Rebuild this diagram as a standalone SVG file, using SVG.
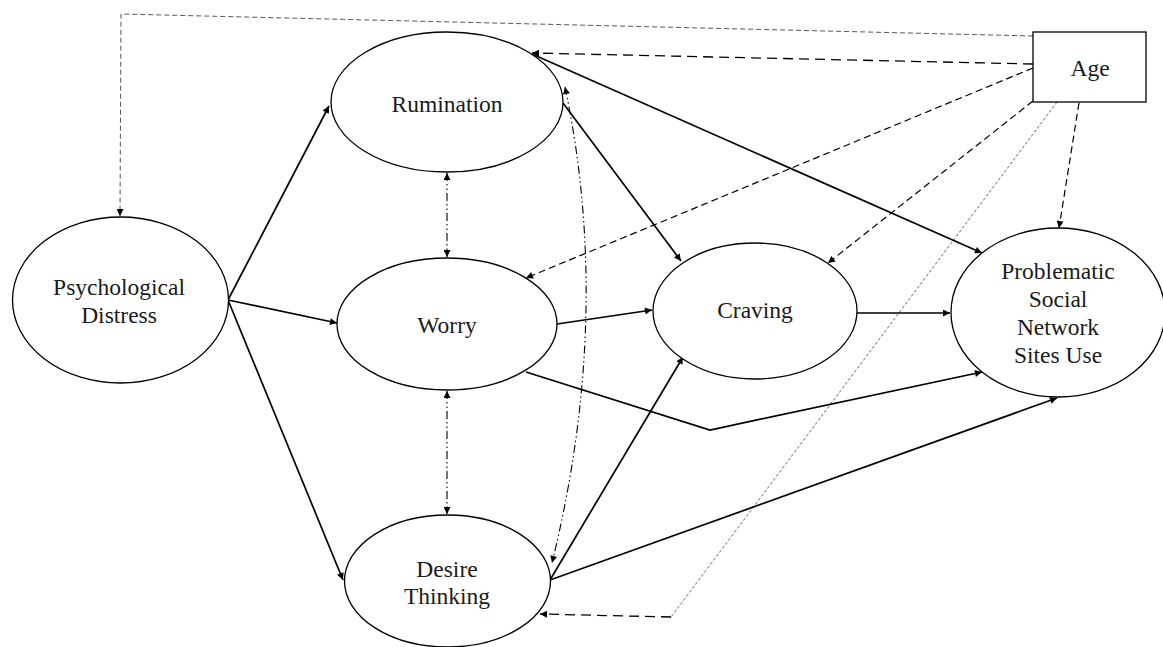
<svg xmlns="http://www.w3.org/2000/svg" width="1163" height="647" viewBox="0 0 1163 647">
<style>
.node ellipse, .node rect { fill: #fff; stroke: #000; stroke-width: 1.3; }
.node text { font-family: "Liberation Serif", "Times New Roman", serif; font-size: 23.5px; fill: #1a1a1a; text-anchor: middle; }
.c { fill: none; stroke: #000; }
.solid { stroke-width: 1.7; }
.dash { stroke-width: 1.2; stroke-dasharray: 7 4; }
.dashL { stroke-width: 1.3; stroke-dasharray: 10 6; }
.thin { stroke-width: 0.9; stroke: #444; stroke-dasharray: 5 3; }
.dot { stroke-width: 0.8; stroke: #444; stroke-dasharray: 3 2; }
.dd { stroke-width: 1.1; stroke-dasharray: 8 3 1.5 3 1.5 3; }
</style>
<defs>
<marker id="ah" viewBox="0 0 10 10" refX="10" refY="5" markerWidth="9" markerHeight="7" markerUnits="userSpaceOnUse" orient="auto-start-reverse"><path d="M0,0 L10,5 L0,10 z" fill="#000"/></marker>
</defs>
<rect width="1163" height="647" fill="#fff"/>
<g id="connectors">
<polyline class="c thin" points="1033,36 121,14 120,216" marker-end="url(#ah)"/>
<line class="c dashL" x1="1033" y1="64" x2="532" y2="53" marker-end="url(#ah)"/>
<line class="c dash" x1="1033" y1="68" x2="526" y2="278" marker-end="url(#ah)"/>
<line class="c dash" x1="1033" y1="101" x2="828" y2="263" marker-end="url(#ah)"/>
<polyline class="c dot" points="1057,102 671,617" />
<line class="c dashL" x1="671" y1="617" x2="540" y2="614" marker-end="url(#ah)"/>
<line class="c dash" x1="1079" y1="103" x2="1059" y2="228" marker-end="url(#ah)"/>
<line class="c solid" x1="228" y1="300" x2="329" y2="106" marker-end="url(#ah)"/>
<line class="c solid" x1="228" y1="300" x2="337" y2="323" marker-end="url(#ah)"/>
<line class="c solid" x1="228" y1="300" x2="343" y2="580" marker-end="url(#ah)"/>
<line class="c dd" x1="447" y1="173" x2="447" y2="257" marker-start="url(#ah)" marker-end="url(#ah)"/>
<line class="c dd" x1="447" y1="391" x2="447" y2="514" marker-start="url(#ah)" marker-end="url(#ah)"/>
<path class="c dd" d="M565,87 Q613,315 552,563" marker-start="url(#ah)" marker-end="url(#ah)"/>
<line class="c solid" x1="563" y1="103" x2="681" y2="261" marker-end="url(#ah)"/>
<line class="c solid" x1="532" y1="54" x2="982" y2="253" marker-end="url(#ah)"/>
<line class="c solid" x1="557" y1="324" x2="652" y2="310" marker-end="url(#ah)"/>
<polyline class="c solid" points="526,372 710,430 982,372" marker-end="url(#ah)"/>
<line class="c solid" x1="550" y1="580" x2="683" y2="357" marker-end="url(#ah)"/>
<line class="c solid" x1="550" y1="580" x2="1057" y2="398" marker-end="url(#ah)"/>
<line class="c solid" x1="857" y1="313" x2="950" y2="313" marker-end="url(#ah)"/>
</g>
<g id="psychological-distress" class="node">
<ellipse cx="120.5" cy="300" rx="108" ry="83"/>
<text x="119" y="295">Psychological</text>
<text x="119" y="323">Distress</text>
</g>
<g id="rumination" class="node">
<ellipse cx="447" cy="102" rx="116" ry="70"/>
<text x="447" y="112">Rumination</text>
</g>
<g id="worry" class="node">
<ellipse cx="447" cy="324" rx="110" ry="66"/>
<text x="447" y="333">Worry</text>
</g>
<g id="desire-thinking" class="node">
<ellipse cx="447.5" cy="581" rx="103" ry="66"/>
<text x="447" y="577">Desire</text>
<text x="447" y="604">Thinking</text>
</g>
<g id="craving" class="node">
<ellipse cx="755" cy="311" rx="102" ry="68"/>
<text x="755" y="318">Craving</text>
</g>
<g id="psnsu" class="node">
<ellipse cx="1058" cy="312.5" rx="107" ry="84.5"/>
<text x="1058" y="279">Problematic</text>
<text x="1058" y="307">Social</text>
<text x="1058" y="335">Network</text>
<text x="1058" y="363">Sites Use</text>
</g>
<g id="age" class="node">
<rect x="1033" y="32" width="113" height="70"/>
<text x="1090" y="76">Age</text>
</g>
</svg>
